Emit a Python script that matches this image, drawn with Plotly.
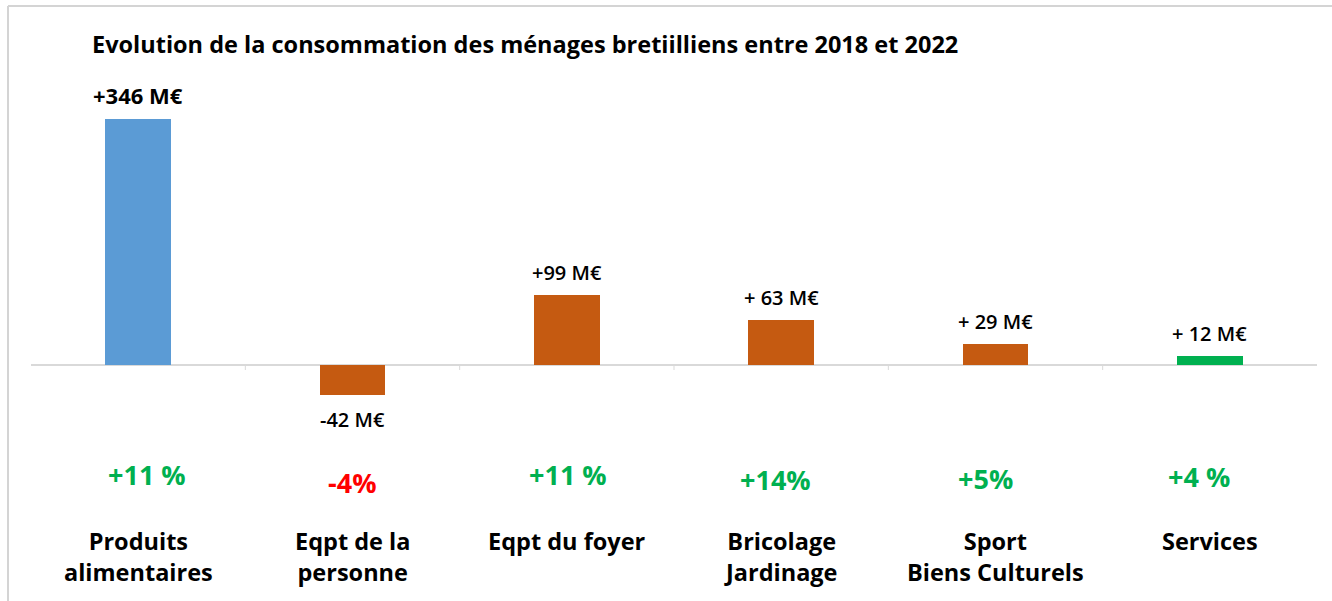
import plotly.graph_objects as go

categories = ["Produits alimentaires", "Eqpt de la personne", "Eqpt du foyer",
              "Bricolage Jardinage", "Sport Biens Culturels", "Services"]
cat_labels = ["Produits<br>alimentaires", "Eqpt de la<br>personne", "Eqpt du foyer",
              "Bricolage<br>Jardinage", "Sport<br>Biens Culturels", "Services"]
values = [346, -42, 99, 63, 29, 12]
value_labels = ["+346 M€", "-42 M€", "+99 M€", "+ 63 M€", "+ 29 M€", "+ 12 M€"]
pct_labels = ["+11 %", "-4%", "+11 %", "+14%", "+5%", "+4 %"]
bar_colors = ["#5B9BD5", "#C55A11", "#C55A11", "#C55A11", "#C55A11", "#00B050"]
pct_colors = ["#00B050", "#FF0000", "#00B050", "#00B050", "#00B050", "#00B050"]

FONT = "Open Sans"
W, H = 1332, 601
ML, MR, MT, MB = 31, 15, 60, 21
PW, PH = W - ML - MR, H - MT - MB


def px_x(px):
    return (px - ML) / PW


def px_y(py):
    return (H - MB - py) / PH


fig = go.Figure()
fig.add_trace(go.Bar(
    x=categories, y=values, width=0.305,
    marker=dict(color=bar_colors, line=dict(width=0)),
    hoverinfo="skip", showlegend=False,
))

# value labels above / below bars
for i, (c, v, t) in enumerate(zip(categories, values, value_labels)):
    fig.add_annotation(
        x=c, y=v, text=f"<b>{t}</b>" if i == 0 else t, showarrow=False,
        yanchor="bottom" if v >= 0 else "top", yshift=7 if v >= 0 else -9,
        font=dict(family=FONT, size=22 if i == 0 else 20, color="#000",
                  weight=700 if i == 0 else 600),
    )

# growth percentages (slightly off-centre in the original)
pct_offsets = [474, 482, 474, 479, 478, 476]
pct_xshift = [9, -1, 1, -6, -10, -11]
for c, t, col, py, dx in zip(categories, pct_labels, pct_colors, pct_offsets, pct_xshift):
    fig.add_annotation(
        x=c, y=px_y(py), yref="paper", text=f"<b>{t}</b>", showarrow=False,
        yanchor="middle", xshift=dx, font=dict(family=FONT, size=27, color=col),
    )

# category names
for c, t in zip(categories, cat_labels):
    fig.add_annotation(
        x=c, y=px_y(523), yref="paper", text=f"<b>{t}</b>", showarrow=False,
        yanchor="top", align="center",
        font=dict(family=FONT, size=23.5, color="#000"),
    )

# small ticks between categories on the zero line
for k in range(1, len(categories)):
    fig.add_shape(type="line", xref="x", yref="y", x0=k - 0.5, x1=k - 0.5,
                  ysizemode="pixel", yanchor=0, y0=0, y1=-5,
                  line=dict(color="#d9d9d9", width=1))

# faint frame (left and top edges)
fig.add_shape(type="line", xref="paper", yref="paper",
              x0=px_x(8), x1=px_x(8), y0=px_y(6), y1=px_y(601),
              line=dict(color="#d4d4d4", width=2))
fig.add_shape(type="line", xref="paper", yref="paper",
              x0=px_x(8), x1=px_x(1332), y0=px_y(6), y1=px_y(6),
              line=dict(color="#d4d4d4", width=2))

fig.update_layout(
    width=W, height=H,
    margin=dict(l=ML, r=MR, t=MT, b=MB),
    paper_bgcolor="white", plot_bgcolor="white",
    title=dict(
        text="<b>Evolution de la consommation des ménages bretiilliens entre 2018 et 2022</b>",
        x=92 / W, xanchor="left", y=1 - 45 / H, yanchor="middle",
        font=dict(family=FONT, size=23.5, color="#000"),
    ),
    xaxis=dict(showticklabels=False, showgrid=False, zeroline=False, showline=False,
               range=[-0.5, 5.5]),
    yaxis=dict(showticklabels=False, showgrid=False, zeroline=True,
               zerolinecolor="#d9d9d9", zerolinewidth=1.5, range=[-302.4, 429]),
    bargap=0,
)

fig.write_html("out.html", config={"displayModeBar": False},
               post_script="document.body.style.margin='0';")
